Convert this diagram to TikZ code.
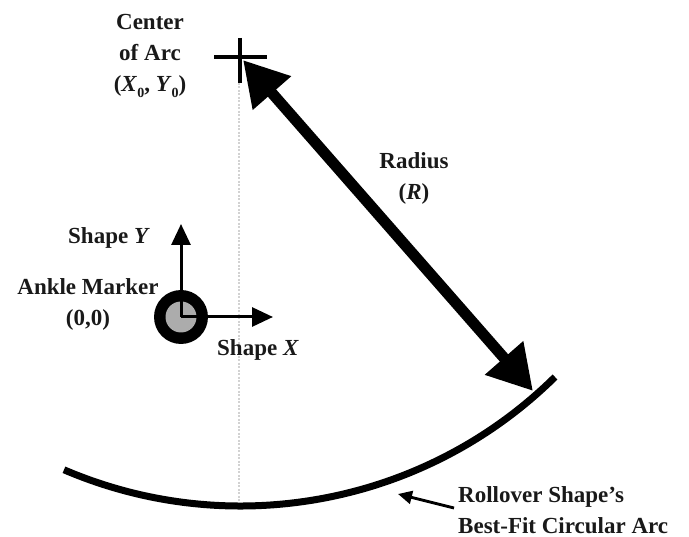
\documentclass[tikz,border=0pt]{standalone}
\usepackage{fontspec}
\setmainfont{Liberation Serif}
\usetikzlibrary{arrows.meta}
\newcommand{\subz}{\raisebox{-0.28em}{\fontsize{14}{14}\selectfont 0}}
\tikzset{
  lbl/.style={font=\fontsize{23}{31}\selectfont\bfseries, text=black!90, inner sep=0pt, align=center},
  bigtip/.tip={Triangle[length=44pt,width=48pt]},
  axtip/.tip={Triangle[length=21pt,width=19pt]},
  smalltip/.tip={Triangle[length=14pt,width=13pt]},
}
\begin{document}
\begin{tikzpicture}[x=1pt,y=-1pt]
\useasboundingbox (0,0) rectangle (689,537);
% coordinates
\coordinate (C) at (240,57);
\coordinate (CL) at (214,57);
\coordinate (CR) at (267,57);
\coordinate (CT) at (240,38);
\coordinate (CB) at (240,83);
\coordinate (Bot) at (239,505);
\coordinate (TipA) at (243,60);
\coordinate (TipB) at (533,391);
\coordinate (O) at (181,317);
\coordinate (Yend) at (181,224);
\coordinate (Xend) at (273,317);
\coordinate (ArcR) at (555,377);
\coordinate (SmTail) at (454,508);
\coordinate (SmTip) at (398,494);
% dotted vertical
\draw[gray!35, line width=2pt, dash pattern=on 2pt off 1.5pt] (239,83) -- (Bot);
% cross
\draw[line width=3.5pt] (CL) -- (CR);
\draw[line width=3.5pt] (CT) -- (CB);
% arc
\draw[line width=7pt] (ArcR) arc[start angle=45.4, end angle=113.2, radius=448];
% radius arrow
\draw[line width=11pt, bigtip-bigtip] (TipA) -- (TipB);
% ankle marker
\fill[black] (O) circle[radius=27];
\fill[gray!65] (O) circle[radius=15.5];
\draw[line width=3pt, -axtip] (O) -- (Yend);
\draw[line width=3pt, -axtip] (O) -- (Xend);
% small arrow
\draw[line width=2.8pt, -smalltip] (SmTail) -- (SmTip);
% labels
\node[lbl] (center) at (150,56) {Center\\of Arc\\(\textit{X}\subz, \textit{Y}\subz)};
\node[lbl] (radius) at (414,178) {Radius\\(\textit{R})};
\node[lbl] (shapey) at (109,238) {Shape \textit{Y}};
\node[lbl] (ankle) at (88,304) {Ankle Marker\\(0,0)};
\node[lbl] (shapex) at (258,350) {Shape \textit{X}};
\node[lbl, align=left, anchor=west] (roll) at (458,510) {Rollover Shape’s\\Best-Fit Circular Arc};
\end{tikzpicture}
\end{document}
